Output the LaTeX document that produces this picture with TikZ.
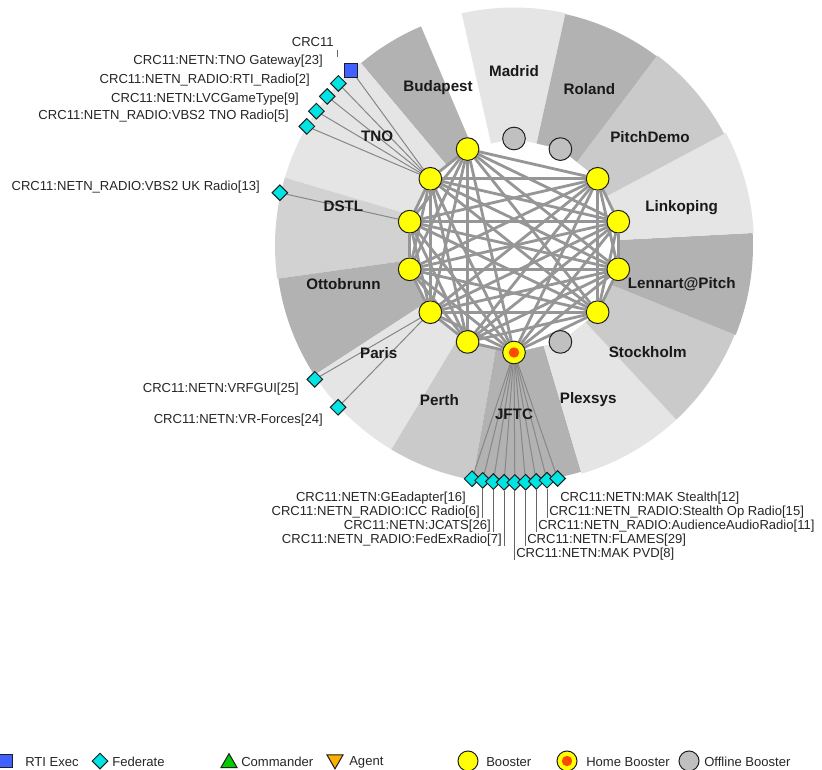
\documentclass[tikz,border=0pt]{standalone}
\usepackage{fontspec}
\setmainfont{Liberation Sans}
\usepackage{xcolor}
\usepackage{tikz}
\usetikzlibrary{shapes.geometric,positioning}
\definecolor{boosteryellow}{RGB}{255,255,0}
\definecolor{fedcyan}{RGB}{0,228,228}
\definecolor{rtiblue}{RGB}{64,96,255}
\definecolor{homered}{RGB}{255,72,0}
\definecolor{offgray}{RGB}{192,192,192}
\definecolor{cmdgreen}{RGB}{0,204,0}
\definecolor{agentorange}{RGB}{255,176,0}
\definecolor{wedgelight}{RGB}{229,229,229}
\definecolor{wedgemid}{RGB}{202,202,202}
\definecolor{wedgedark}{RGB}{178,178,178}
\definecolor{meshgray}{RGB}{150,150,150}
\definecolor{linkgray}{RGB}{135,135,135}
\definecolor{outline}{RGB}{30,30,30}

\pgfdeclarelayer{ring}
\pgfdeclarelayer{links}
\pgfsetlayers{ring,links,main}

\begin{document}
\begin{tikzpicture}[
    x=0.75pt,
    y=-0.75pt,
    font=\fontsize{9.8}{11}\selectfont,
    ring/.style={
        shift={(514,245.5)},
        yscale=-1
    },
    booster/.style={
        circle,
        draw=outline,
        fill=boosteryellow,
        line width=0.75pt,
        minimum size=17pt,
        inner sep=0pt
    },
    homebooster/.style={
        booster,
        path picture={\fill[homered] (path picture bounding box.center) circle (3.9pt);}
    },
    offline/.style={
        booster,
        fill=offgray
    },
    federate/.style={
        diamond,
        draw=outline,
        fill=fedcyan,
        line width=0.75pt,
        minimum size=12pt,
        inner sep=0pt
    },
    rtiexec/.style={
        rectangle,
        draw=outline,
        fill=rtiblue,
        line width=0.75pt,
        minimum size=10pt,
        inner sep=0pt
    },
    commander/.style={
        regular polygon,
        regular polygon sides=3,
        draw=outline,
        fill=cmdgreen,
        line width=0.75pt,
        minimum size=14pt,
        inner sep=0pt
    },
    agent/.style={
        commander,
        fill=agentorange,
        shape border rotate=180
    },
    legendmark/.style={
        minimum size=15pt
    },
    sitelabel/.style={
        font=\fontsize{11.4}{13}\selectfont\bfseries,
        text=black!90,
        inner sep=0pt
    },
    fedlabel/.style={
        text=black!85,
        inner sep=0pt
    },
    mesh/.style={
        draw=meshgray,
        line width=2.1pt
    },
    link/.style={
        draw=linkgray,
        line width=0.75pt
    },
    leader/.style={
        draw=black!60,
        line width=0.5pt
    }
]

\useasboundingbox (0,0) rectangle (822,770);

\begin{scope}[ring]
\node[offline] (madrid) at (90:107) {};
\node[offline] (roland) at (64.29:107) {};
\node[booster] (pitchdemo) at (38.57:107) {};
\node[booster] (linkoping) at (12.86:107) {};
\node[booster] (lennart) at (-12.86:107) {};
\node[booster] (stockholm) at (-38.57:107) {};
\node[offline] (plexsys) at (-64.29:107) {};
\node[homebooster] (jftc) at (-90:107) {};
\node[booster] (perth) at (-115.71:107) {};
\node[booster] (paris) at (-141.43:107) {};
\node[booster] (ottobrunn) at (-167.14:107) {};
\node[booster] (dstl) at (167.14:107) {};
\node[booster] (tno) at (141.43:107) {};
\node[booster] (budapest) at (115.71:107) {};

\node[sitelabel] (madridlbl) at (90:174) {Madrid};
\node[sitelabel] (rolandlbl) at (64.29:174) {Roland};
\node[sitelabel] (pitchdemolbl) at (38.57:174) {PitchDemo};
\node[sitelabel] (linkopinglbl) at (12.86:172) {Linkoping};
\node[sitelabel] (lennartlbl) at (-12.86:172) {Lennart@Pitch};
\node[sitelabel] (stockholmlbl) at (-38.57:171) {Stockholm};
\node[sitelabel] (plexsyslbl) at (-64.29:171) {Plexsys};
\node[sitelabel] (jftclbl) at (-90:169) {JFTC};
\node[sitelabel] (perthlbl) at (-115.71:172) {Perth};
\node[sitelabel] (parislbl) at (-141.43:173) {Paris};
\node[sitelabel] (ottobrunnlbl) at (-167.14:175) {Ottobrunn};
\node[sitelabel] (dstllbl) at (167.14:175) {DSTL};
\node[sitelabel] (tnolbl) at (141.43:175) {TNO};
\node[sitelabel] (budapestlbl) at (115.71:175) {Budapest};

\node[rtiexec] (crc) at (132.9:239) {};
\node[federate] (tnogw) at (137.3:239) {};
\node[federate] (rtiradio) at (141.4:239) {};
\node[federate] (lvcgame) at (145.8:239) {};
\node[federate] (vbstno) at (150.1:239) {};
\node[federate] (vbsuk) at (167.3:240) {};
\node[federate] (vrfgui) at (213.9:240) {};
\node[federate] (vrforces) at (222.6:239) {};

\node[federate] (geadapter) at (259.8:237) {};
\node[federate] (iccradio) at (262.4:237) {};
\node[federate] (jcats) at (265.0:237) {};
\node[federate] (fedex) at (267.6:237) {};
\node[federate] (makpvd) at (270.2:237) {};
\node[federate] (flames) at (272.8:237) {};
\node[federate] (audience) at (275.4:237) {};
\node[federate] (stealthop) at (278.0:237) {};
\node[federate] (makstealth) at (280.6:237) {};
\end{scope}

\begin{pgfonlayer}{ring}
\begin{scope}[ring]
\fill[wedgelight] (0,0) -- (77.5:238) arc[start angle=77.5, end angle=102.7, radius=238] -- cycle;
\fill[wedgedark] (0,0) -- (113:238) arc[start angle=113, end angle=130, radius=238] -- cycle;
\fill[wedgelight] (0,0) -- (130:239) arc[start angle=130, end angle=163.5, radius=239] -- cycle;
\fill[wedgemid!70!wedgelight] (0,0) -- (163.5:239) arc[start angle=163.5, end angle=188, radius=239] -- cycle;
\fill[wedgedark] (0,0) -- (188:238) arc[start angle=188, end angle=213, radius=238] -- cycle;
\fill[wedgelight] (0,0) -- (213:238) arc[start angle=213, end angle=239, radius=238] -- cycle;
\fill[wedgemid] (0,0) -- (239:238) arc[start angle=239, end angle=260, radius=238] -- cycle;
\fill[wedgedark] (0,0) -- (260:236) arc[start angle=260, end angle=286.5, radius=236] -- cycle;
\fill[wedgelight] (0,0) -- (286.5:238) arc[start angle=286.5, end angle=313, radius=238] -- cycle;
\fill[wedgemid] (0,0) -- (313:238) arc[start angle=313, end angle=338, radius=238] -- cycle;
\fill[wedgedark] (0,0) -- (338:239) arc[start angle=338, end angle=363, radius=239] -- cycle;
\fill[wedgelight] (0,0) -- (3:240) arc[start angle=3, end angle=28, radius=240] -- cycle;
\fill[wedgemid] (0,0) -- (28:238) arc[start angle=28, end angle=53, radius=238] -- cycle;
\fill[wedgedark] (0,0) -- (53:237) arc[start angle=53, end angle=77.5, radius=237] -- cycle;
\end{scope}
\fill[white] (madrid.center) -- (roland.center) -- (pitchdemo.center) -- (linkoping.center)
    -- (lennart.center) -- (stockholm.center) -- (plexsys.center) -- (jftc.center)
    -- (perth.center) -- (paris.center) -- (ottobrunn.center) -- (dstl.center)
    -- (tno.center) -- (budapest.center) -- cycle;
\end{pgfonlayer}

\begin{pgfonlayer}{links}
\foreach \a [count=\i] in {budapest,tno,dstl,ottobrunn,paris,perth,jftc,stockholm,lennart,linkoping,pitchdemo} {
    \foreach \b [count=\j] in {budapest,tno,dstl,ottobrunn,paris,perth,jftc,stockholm,lennart,linkoping,pitchdemo} {
        \ifnum\i<\j
            \draw[mesh] (\a) -- (\b);
        \fi
    }
}

\draw[link] (tno) -- (crc);
\draw[link] (tno) -- (tnogw);
\draw[link] (tno) -- (rtiradio);
\draw[link] (tno) -- (lvcgame);
\draw[link] (tno) -- (vbstno);
\draw[link] (dstl) -- (vbsuk);
\draw[link] (paris) -- (vrfgui);
\draw[link] (paris) -- (vrforces);
\foreach \f in {geadapter,iccradio,jcats,fedex,makpvd,flames,audience,stealthop,makstealth}
    \draw[link] (jftc) -- (\f);
\end{pgfonlayer}

\node[fedlabel, anchor=east] (crclbl) at (334,42) {CRC11};
\coordinate (crctop) at (337,50);
\coordinate (crcbot) at (337,57);
\draw[leader] (crctop) -- (crcbot);
\node[fedlabel, anchor=east] (tnogwlbl) at (323,61) {CRC11:NETN:TNO Gateway[23]};
\node[fedlabel, anchor=east] (rtiradiolbl) at (310,80) {CRC11:NETN\_RADIO:RTI\_Radio[2]};
\node[fedlabel, anchor=east] (lvcgamelbl) at (299,99) {CRC11:NETN:LVCGameType[9]};
\node[fedlabel, anchor=east] (vbstnolbl) at (289,116) {CRC11:NETN\_RADIO:VBS2 TNO Radio[5]};
\node[fedlabel, anchor=east] (vbsuklbl) at (260,187) {CRC11:NETN\_RADIO:VBS2 UK Radio[13]};
\node[fedlabel, anchor=east] (vrfguilbl) at (299,389) {CRC11:NETN:VRFGUI[25]};
\node[fedlabel, anchor=east] (vrforceslbl) at (323,420) {CRC11:NETN:VR-Forces[24]};

\node[fedlabel, anchor=east] (geadapterlbl) at (466,498) {CRC11:NETN:GEadapter[16]};
\node[fedlabel, anchor=east] (iccradiolbl) at (480,512) {CRC11:NETN\_RADIO:ICC Radio[6]};
\node[fedlabel, anchor=east] (jcatslbl) at (491,526) {CRC11:NETN:JCATS[26]};
\node[fedlabel, anchor=east] (fedexlbl) at (502,540) {CRC11:NETN\_RADIO:FedExRadio[7]};
\node[fedlabel, anchor=west] (makpvdlbl) at (516,554) {CRC11:NETN:MAK PVD[8]};
\node[fedlabel, anchor=west] (flameslbl) at (527,540) {CRC11:NETN:FLAMES[29]};
\node[fedlabel, anchor=west] (audiencelbl) at (538,526) {CRC11:NETN\_RADIO:AudienceAudioRadio[11]};
\node[fedlabel, anchor=west] (stealthoplbl) at (549,512) {CRC11:NETN\_RADIO:Stealth Op Radio[15]};
\node[fedlabel, anchor=west] (makstealthlbl) at (560,498) {CRC11:NETN:MAK Stealth[12]};

\draw[leader] (iccradio.south) -- (iccradio.south |- iccradiolbl.south);
\draw[leader] (jcats.south) -- (jcats.south |- jcatslbl.south);
\draw[leader] (fedex.south) -- (fedex.south |- fedexlbl.south);
\draw[leader] (makpvd.south) -- (makpvd.south |- makpvdlbl.south);
\draw[leader] (flames.south) -- (flames.south |- flameslbl.south);
\draw[leader] (audience.south) -- (audience.south |- audiencelbl.south);
\draw[leader] (stealthop.south) -- (stealthop.south |- stealthoplbl.south);

\node[rtiexec] (legrti) at (6,761) {};
\node[fedlabel, anchor=west] (legrtilbl) at (25,762) {RTI Exec};
\node[federate] (legfed) at (100,761) {};
\node[fedlabel, anchor=west] (legfedlbl) at (112,762) {Federate};
\node[commander] (legcmd) at (229,763) {};
\node[fedlabel, anchor=west] (legcmdlbl) at (241,762) {Commander};
\node[agent] (legagent) at (335,759.5) {};
\node[fedlabel, anchor=west] (legagentlbl) at (349,762) {Agent};
\node[booster, legendmark] (legbooster) at (468,761) {};
\node[fedlabel, anchor=west] (legboosterlbl) at (486,762) {Booster};
\node[homebooster, legendmark] (leghome) at (567,761) {};
\node[fedlabel, anchor=west] (leghomelbl) at (586,762) {Home Booster};
\node[offline, legendmark] (legoffline) at (689,761) {};
\node[fedlabel, anchor=west] (legofflinelbl) at (704,762) {Offline Booster};

\end{tikzpicture}
\end{document}
